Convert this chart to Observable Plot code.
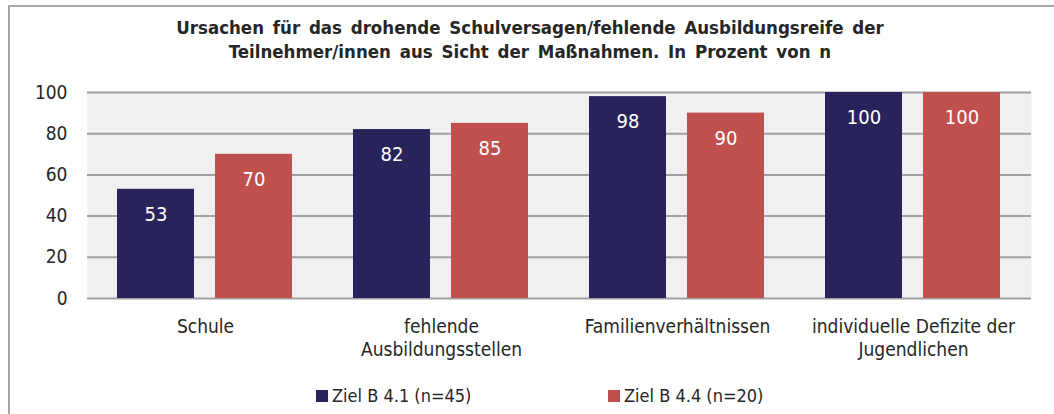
<!DOCTYPE html>
<html>
<head>
<meta charset="utf-8">
<script src="https://cdn.jsdelivr.net/npm/d3@7"></script>
<script src="https://cdn.jsdelivr.net/npm/@observablehq/plot@0.6"></script>
<style>
  html, body { margin: 0; padding: 0; background: #fff; }
  #wrap { position: relative; width: 1054px; height: 414px; overflow: hidden;
    font-family: "Liberation Sans Narrow", "Arial Narrow", "DejaVu Sans Condensed", sans-serif; color: #262626; }
  #frame { position: absolute; left: 8px; top: 5px; width: 1100px; height: 420px;
    border-left: 2px solid #a6a6aa; border-top: 2px solid #a6a6aa; }
  #title { position: absolute; left: 0; width: 1060px; top: 16px; text-align: center;
    font-weight: bold; font-size: 18.5px; line-height: 24px; word-spacing: 3px; }
  #chart { position: absolute; left: 0; top: 72px; }
  #legend { position: absolute; top: 385px; left: 0; width: 1054px; font-size: 18px; }
  .li { position: absolute; display: flex; align-items: center; white-space: nowrap; }
  .sw { width: 12px; height: 12px; margin-right: 4px; display: inline-block; }
</style>
</head>
<body>
<div id="wrap">
  <div id="frame"></div>
  <div id="title">Ursachen für das drohende Schulversagen/fehlende Ausbildungsreife der<br>Teilnehmer/innen aus Sicht der Maßnahmen. In Prozent von n</div>
  <div id="chart"></div>
  <div id="legend"></div>
</div>
<script>
const categories = ["Schule", "fehlende Ausbildungsstellen", "Familienverhältnissen", "individuelle Defizite der Jugendlichen"];
const categoryLabels = ["Schule", "fehlende\nAusbildungsstellen", "Familienverhältnissen", "individuelle Defizite der\nJugendlichen"];
const seriesNames = ["Ziel B 4.1 (n=45)", "Ziel B 4.4 (n=20)"];
const seriesColors = ["#29235c", "#c0504d"];
const valuesB41 = [53, 82, 98, 100];
const valuesB44 = [70, 85, 90, 100];
const yTicks = [0, 20, 40, 60, 80, 100];

const data = [];
categories.forEach((c, i) => {
  data.push({cat: c, series: seriesNames[0], value: valuesB41[i]});
  data.push({cat: c, series: seriesNames[1], value: valuesB44[i]});
});
const labelOf = new Map(categories.map((c, i) => [c, categoryLabels[i]]));
const fontFam = '"Liberation Sans Narrow", "Arial Narrow", "DejaVu Sans Condensed", sans-serif';

const chart = Plot.plot({
  width: 1054,
  height: 300,
  marginLeft: 86,
  marginRight: 23,
  marginTop: 20,
  marginBottom: 74,
  style: {fontFamily: fontFam, fontSize: "19px", color: "#262626", background: "transparent"},
  fx: {domain: categories, padding: 0, label: null, tickSize: 0, tickPadding: 21,
       tickFormat: d => labelOf.get(d)},
  x: {domain: seriesNames, paddingInner: 0.212, paddingOuter: 0.298, axis: null},
  y: {domain: [0, 100], ticks: yTicks, label: null, tickSize: 0, tickPadding: 20},
  color: {domain: seriesNames, range: seriesColors},
  marks: [
    Plot.frame({fill: "#f0f0f0", stroke: null}),
    Plot.ruleY(yTicks, {stroke: "#a0a0a4", strokeWidth: 2, strokeOpacity: 1}),
    Plot.barY(data, {fx: "cat", x: "series", y: "value", fill: "series"}),
    Plot.text(data, {fx: "cat", x: "series", y: "value", text: d => String(d.value),
      dy: 25, fill: "white", fontSize: 20})
  ]
});
// widen the line spacing of the two-line category labels
chart.querySelectorAll("tspan").forEach(ts => {
  if (ts.getAttribute("dy") === "1em") ts.setAttribute("dy", "1.22em");
});
document.getElementById("chart").appendChild(chart);

const legend = document.getElementById("legend");
const lx = [316, 608];
seriesNames.forEach((s, i) => {
  const el = document.createElement("div");
  el.className = "li";
  el.style.left = lx[i] + "px";
  const sw = document.createElement("span");
  sw.className = "sw";
  sw.style.background = seriesColors[i];
  el.appendChild(sw);
  el.appendChild(document.createTextNode(s));
  legend.appendChild(el);
});
</script>
</body>
</html>
